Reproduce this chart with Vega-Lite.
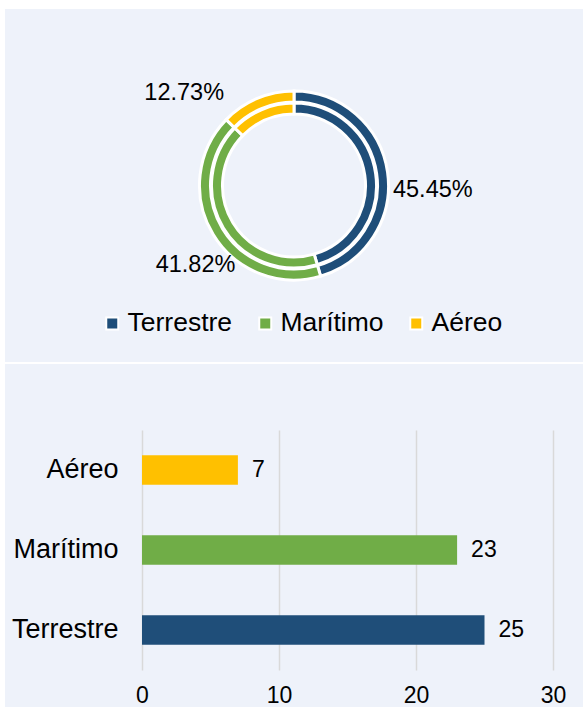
{
  "$schema": "https://vega.github.io/schema/vega-lite/v6.json",
  "background": "white",
  "padding": {"left": 5, "top": 9, "right": 0, "bottom": 0},
  "spacing": 2,
  "config": {"view": {"stroke": null}, "font": "Liberation Sans", "text": {"font": "Liberation Sans"}},
  "resolve": {"scale": {"color": "independent"}, "legend": {"color": "independent"}},
  "datasets": {
    "modos": [
      {"modo": "Terrestre", "valor": 25, "porcentaje": 0.4545, "orden": 1},
      {"modo": "Marítimo", "valor": 23, "porcentaje": 0.4182, "orden": 2},
      {"modo": "Aéreo", "valor": 7, "porcentaje": 0.1273, "orden": 3}
    ]
  },
  "vconcat": [
    {
      "width": 578,
      "height": 353,
      "view": {"fill": "#EEF2FA", "stroke": null},
      "data": {"name": "modos"},
      "encoding": {
        "theta": {"field": "valor", "type": "quantitative", "stack": true},
        "order": {"field": "orden", "type": "quantitative"}
      },
      "layer": [
        {
          "mark": {"type": "arc", "outerRadius": 94.5, "innerRadius": 83.5, "stroke": "white", "strokeWidth": 3},
          "encoding": {
            "color": {
              "field": "modo", "type": "nominal",
              "scale": {"domain": ["Terrestre", "Marítimo", "Aéreo"], "range": ["#1F4E79", "#70AD47", "#FFC000"]},
              "legend": {
                "orient": "none", "legendX": 94, "legendY": 301, "direction": "horizontal", "title": null,
                "symbolType": "square", "symbolSize": 144, "symbolStrokeColor": "white", "symbolStrokeWidth": 2,
                "symbolOpacity": 1, "labelFontSize": 26.5, "labelColor": "black", "labelFont": "Liberation Sans",
                "columnPadding": 19, "labelOffset": 2
              }
            }
          }
        },
        {
          "mark": {"type": "arc", "outerRadius": 82.5, "innerRadius": 71.5, "stroke": "white", "strokeWidth": 3},
          "encoding": {
            "color": {
              "field": "modo", "type": "nominal",
              "scale": {"domain": ["Terrestre", "Marítimo", "Aéreo"], "range": ["#1F4E79", "#70AD47", "#FFC000"]},
              "legend": null
            }
          }
        },
        {
          "mark": {"type": "text", "radius": 100, "align": "left", "baseline": "middle", "dy": 19, "fontSize": 23.5, "color": "black"},
          "encoding": {
            "text": {"condition": {"test": "datum.modo === 'Terrestre'", "field": "porcentaje", "type": "quantitative", "format": ".2%"}, "value": ""}
          }
        },
        {
          "mark": {"type": "text", "radius": 100, "align": "right", "baseline": "middle", "dx": 27, "dy": 28, "fontSize": 23.5, "color": "black"},
          "encoding": {
            "text": {"condition": {"test": "datum.modo === 'Marítimo'", "field": "porcentaje", "type": "quantitative", "format": ".2%"}, "value": ""}
          }
        },
        {
          "mark": {"type": "text", "radius": 100, "align": "right", "baseline": "middle", "dx": -31, "dy": 0, "fontSize": 23.5, "color": "black"},
          "encoding": {
            "text": {"condition": {"test": "datum.modo === 'Aéreo'", "field": "porcentaje", "type": "quantitative", "format": ".2%"}, "value": ""}
          }
        }
      ]
    },
    {
      "width": 578,
      "height": 343,
      "view": {"fill": "#EEF2FA", "stroke": null},
      "data": {"name": "modos"},
      "encoding": {
        "y": {
          "field": "modo", "type": "nominal", "sort": ["Aéreo", "Marítimo", "Terrestre"],
          "scale": {"range": [66, 306], "paddingInner": 0.63, "paddingOuter": 0.315},
          "axis": {"title": null, "orient": "left", "offset": -118, "domain": false, "ticks": false, "labelPadding": 5,
                   "labelFontSize": 27, "labelColor": "black", "labelFont": "Liberation Sans", "grid": false}
        }
      },
      "layer": [
        {
          "mark": {"type": "bar"},
          "encoding": {
            "x": {
              "field": "valor", "type": "quantitative",
              "scale": {"domain": [0, 30], "range": [137, 548], "nice": false, "zero": true},
              "axis": {"title": null, "orient": "top", "values": [0, 10, 20, 30], "offset": 0, "domain": false, "ticks": false,
                       "labels": false, "grid": true, "gridColor": "#D9D9D9", "gridWidth": 1.5}
            },
            "color": {
              "field": "modo", "type": "nominal",
              "scale": {"domain": ["Terrestre", "Marítimo", "Aéreo"], "range": ["#1F4E79", "#70AD47", "#FFC000"]},
              "legend": null
            }
          }
        },
        {
          "mark": {"type": "text", "align": "left", "baseline": "middle", "dx": 14, "fontSize": 23, "color": "black"},
          "encoding": {
            "x": {
              "field": "valor", "type": "quantitative",
              "scale": {"domain": [0, 30], "range": [137, 548], "nice": false, "zero": true},
              "axis": {"title": null, "orient": "bottom", "values": [0, 10, 20, 30], "offset": -25, "domain": false, "ticks": false,
                       "labelPadding": 2, "labelFontSize": 23, "labelColor": "black", "labelFont": "Liberation Sans",
                       "labelFlush": false, "grid": false}
            },
            "text": {"field": "valor", "type": "quantitative"}
          }
        }
      ],
      "resolve": {"axis": {"x": "independent"}}
    }
  ]
}
